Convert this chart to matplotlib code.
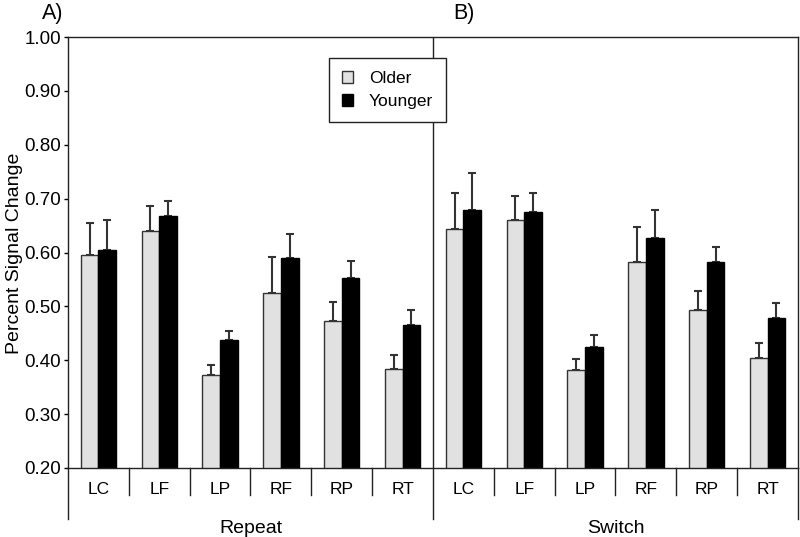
import matplotlib
matplotlib.use("Agg")
import matplotlib.pyplot as plt
import numpy as np

plt.rcParams['font.family'] = ['Liberation Sans', 'DejaVu Sans']

regions = ["LC", "LF", "LP", "RF", "RP", "RT"]
conditions = ["Repeat", "Switch"]
series_names = ["Older", "Younger"]

older_repeat = [0.595, 0.640, 0.372, 0.525, 0.473, 0.384]
younger_repeat = [0.604, 0.667, 0.437, 0.590, 0.553, 0.466]
older_switch = [0.644, 0.660, 0.381, 0.582, 0.493, 0.405]
younger_switch = [0.679, 0.676, 0.424, 0.626, 0.583, 0.479]

older_repeat_err = [0.059, 0.046, 0.020, 0.066, 0.036, 0.026]
younger_repeat_err = [0.056, 0.028, 0.017, 0.045, 0.032, 0.027]
older_switch_err = [0.067, 0.045, 0.021, 0.066, 0.036, 0.027]
younger_switch_err = [0.068, 0.035, 0.023, 0.053, 0.028, 0.027]

yticks = [0.20, 0.30, 0.40, 0.50, 0.60, 0.70, 0.80, 0.90, 1.00]

older = older_repeat + older_switch
younger = younger_repeat + younger_switch
older_err = older_repeat_err + older_switch_err
younger_err = younger_repeat_err + younger_switch_err
labels = regions * 2
n = len(labels)
x = np.arange(n)

fig = plt.figure(figsize=(8, 5.37), dpi=100)
ax = fig.add_axes([68/800, 1-468/537, 730/800, 431/537])

w = 0.29
ax.bar(x - w/2, older, width=w, color="#e1e1e1", edgecolor="#333333", linewidth=1.0,
       label=series_names[0], zorder=2)
ax.bar(x + w/2, younger, width=w, color="black", edgecolor="black", linewidth=1.0,
       label=series_names[1], zorder=2)
ax.errorbar(x - w/2, older, yerr=[np.zeros(n), older_err], fmt='none', ecolor="#333333",
            elinewidth=1.5, capsize=3, capthick=1.5, zorder=1)
ax.errorbar(x + w/2, younger, yerr=[np.zeros(n), younger_err], fmt='none', ecolor="#333333",
            elinewidth=1.5, capsize=3, capthick=1.5, zorder=1)

ax.set_xlim(-0.5, n - 0.5)
ax.set_ylim(0.20, 1.00)
ax.set_yticks(yticks)
ax.set_yticklabels([f"{v:.2f}" for v in yticks], fontsize=13.5)
ax.tick_params(axis='y', direction='out', length=3, width=1, pad=2)
ax.set_xticks([])

for s in ax.spines.values():
    s.set_linewidth(1.0)
    s.set_color("#222222")

fig.text(15/800, 1-253/537, "Percent Signal Change", rotation=90, fontsize=14,
         ha='center', va='center')

# divider between groups inside the plot
ax.axvline(5.5, color="#222222", linewidth=1.0, zorder=0)

trans = ax.get_xaxis_transform()
h = 431.0
# category separators below axis
for b in np.arange(0.5, n - 0.5, 1.0):
    if b == 5.5:
        continue
    ax.plot([b, b], [0, -27/h], transform=trans, color="#222222", lw=1.0, clip_on=False)
# group dividers
for b in [-0.5, 5.5, n - 0.5]:
    ax.plot([b, b], [0, -51/h], transform=trans, color="#222222", lw=1.0, clip_on=False)
# category labels
for xi, lab in zip(x, labels):
    ax.text(xi, -25.5/h, lab, transform=trans, ha='center', va='baseline', fontsize=12.5)
# group labels
for gi, g in enumerate(conditions):
    ax.text(2.5 + 6*gi, -65/h, g, transform=trans, ha='center', va='baseline', fontsize=14)

fig.text(42/800, 1-19/537, "A)", fontsize=15.5, ha='left', va='baseline')
fig.text(453/800, 1-19/537, "B)", fontsize=15.5, ha='left', va='baseline')

leg = ax.legend(loc='upper left', bbox_to_anchor=(329/800, 1-58/537),
                bbox_transform=fig.transFigure, fontsize=12.5, frameon=True,
                fancybox=False, framealpha=1, edgecolor="#222222",
                handlelength=0.65, handleheight=0.65, handletextpad=0.9,
                borderpad=0.75, labelspacing=0.45, borderaxespad=0)
leg.get_frame().set_linewidth(1.0)
leg.set_zorder(5)

fig.savefig("out.png", dpi=100)
